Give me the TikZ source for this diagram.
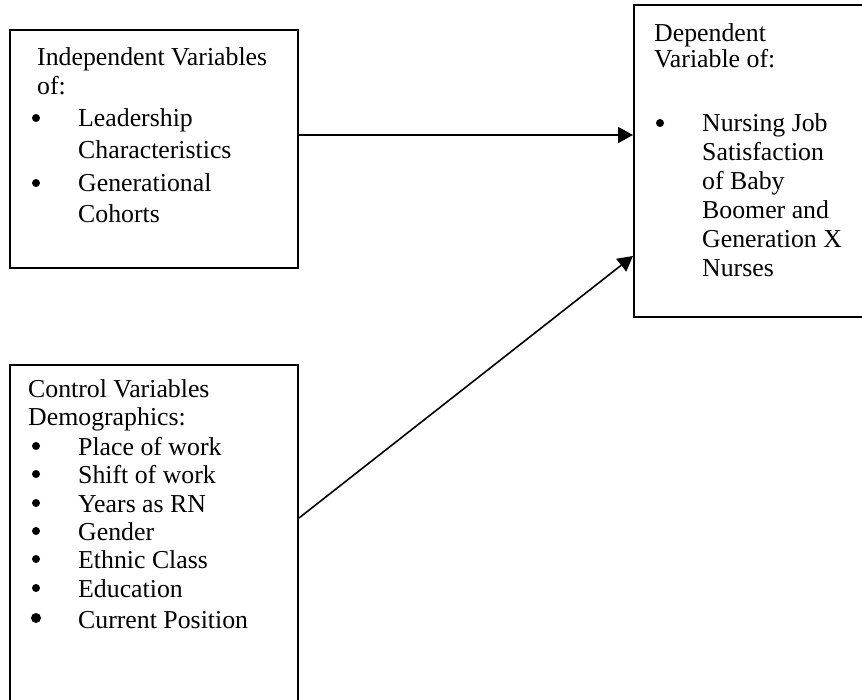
\documentclass[tikz,border=0pt]{standalone}
\usepackage{fontspec}
\setmainfont{Liberation Serif}
\usetikzlibrary{arrows.meta}
\begin{document}
\begin{tikzpicture}[x=1pt,y=-1pt,
  box/.style={draw,line width=2pt,inner sep=0pt},
  txt/.style={anchor=base west,inner sep=0pt,font=\fontsize{25.8}{29}\selectfont},
  bul/.style={circle,fill=black,inner sep=0pt,minimum size=8pt},
  bigbul/.style={circle,fill=black,inner sep=0pt,minimum size=10pt},
  conn/.style={line width=1.6pt,-{Triangle[length=15pt,width=16pt]}}]
\useasboundingbox (0,0) rectangle (862,700);
% boxes
\node[box,minimum width=288pt,minimum height=238pt] (b1) at (154,149) {};
\node[box,minimum width=240pt,minimum height=312pt] (b2) at (754,161) {};
\node[box,minimum width=288pt,minimum height=340pt] (b3) at (154,535) {};
% box 1 text
\node[txt] (t11) at (37,66) {Independent Variables};
\node[txt] (t12) at (37,95) {of:};
\node[bul] (u11) at (36,118) {};
\node[txt] (t13) at (78,127) {Leadership};
\node[txt] (t14) at (78,159) {Characteristics};
\node[bul] (u12) at (36,183) {};
\node[txt] (t15) at (78,192) {Generational};
\node[txt] (t16) at (78,223) {Cohorts};
% box 2 text
\node[txt] (t21) at (654,42) {Dependent};
\node[txt] (t22) at (654,68) {Variable of:};
\node[bul] (u21) at (660,123) {};
\node[txt] (t23) at (702,132) {Nursing Job};
\node[txt] (t24) at (702,161) {Satisfaction};
\node[txt] (t25) at (702,190) {of Baby};
\node[txt] (t26) at (702,219) {Boomer and};
\node[txt] (t27) at (702,248) {Generation X};
\node[txt] (t28) at (702,277) {Nurses};
% box 3 text
\node[txt] (t31) at (28,398) {Control Variables};
\node[txt] (t32) at (28,425) {Demographics:};
\node[bul] (u31) at (36,446) {};
\node[txt] (t33) at (78,455) {Place of work};
\node[bul] (u32) at (36,474) {};
\node[txt] (t34) at (78,483) {Shift of work};
\node[bul] (u33) at (36,503) {};
\node[txt] (t35) at (78,512) {Years as RN};
\node[bul] (u34) at (36,531) {};
\node[txt] (t36) at (78,540) {Gender};
\node[bul] (u35) at (36,559) {};
\node[txt] (t37) at (78,568) {Ethnic Class};
\node[bul] (u36) at (36,588) {};
\node[txt] (t38) at (78,597) {Education};
\node[bigbul] (u37) at (36,618) {};
\node[txt] (t39) at (78,628) {Current Position};
% connectors
\draw[conn] (b1.east |- 0,135) -- (b2.west |- 0,135);
\draw[conn] (b3.east |- 0,518) -- (b2.west |- 0,256);
\end{tikzpicture}
\end{document}
